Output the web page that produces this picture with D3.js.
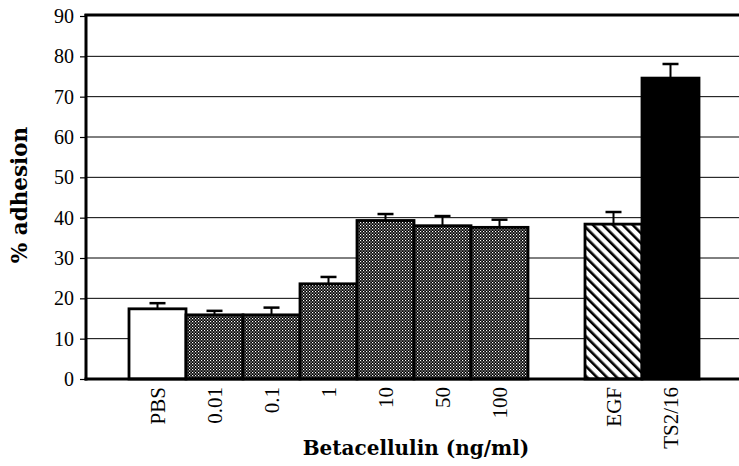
<!DOCTYPE html>
<html><head><meta charset="utf-8">
<script src="https://cdn.jsdelivr.net/npm/d3@7"></script>
<style>html,body{margin:0;padding:0;background:#fff;overflow:hidden}</style>
</head><body>
<script>
const categories = ["PBS","0.01","0.1","1","10","50","100","","EGF","TS2/16"];
const values =     [17.4, 15.9, 15.9, 23.6, 39.3, 38.0, 37.6, null, 38.4, 74.6];
const errTops =    [18.8, 16.9, 17.7, 25.3, 40.9, 40.4, 39.5, null, 41.4, 78.1];
const fills =      ["white","check","check","check","check","check","check",null,"diag","black"];
const yTicks = [0,10,20,30,40,50,60,70,80,90];
const xTitle = "Betacellulin (ng/ml)";
const yTitle = "% adhesion";

const W = 739, H = 466;
const svg = d3.select("body").append("svg").attr("width", W).attr("height", H);
const defs = svg.append("defs");
const pc = defs.append("pattern").attr("id","check").attr("patternUnits","userSpaceOnUse")
  .attr("width",3).attr("height",3);
pc.append("rect").attr("width",3).attr("height",3).attr("fill","#000");
pc.append("rect").attr("x",0).attr("y",0).attr("width",1.2).attr("height",1.2).attr("fill","#fff");
pc.append("rect").attr("x",1.5).attr("y",1.5).attr("width",1.1).attr("height",1.1).attr("fill","#fff");
const pd = defs.append("pattern").attr("id","diag").attr("patternUnits","userSpaceOnUse")
  .attr("width",7).attr("height",7).attr("patternTransform","rotate(-45)");
pd.append("rect").attr("width",7).attr("height",7).attr("fill","#fff");
pd.append("rect").attr("x",0).attr("y",0).attr("width",2.6).attr("height",7).attr("fill","#000");

const x = d3.scaleBand().domain(d3.range(categories.length)).range([129, 699]).padding(0);
const y = d3.scaleLinear().domain([0, 90]).range([379, 16]);
const left = 86, right = 760;

// gridlines
svg.append("g").selectAll("line").data(yTicks.filter(d => d > 0 && d < 90)).join("line")
  .attr("x1", left).attr("x2", right).attr("y1", d => y(d)).attr("y2", d => y(d))
  .attr("stroke", "#000").attr("stroke-width", 1);

// y axis
const yAxis = svg.append("g").attr("transform", `translate(${left},0)`)
  .call(d3.axisLeft(y).tickValues(yTicks).tickSize(6).tickPadding(6));
yAxis.select(".domain").remove();
yAxis.selectAll("text").attr("font-family","Liberation Serif").attr("font-size",20).attr("fill","#000");
yAxis.selectAll("line").attr("stroke","#000").attr("stroke-width",1.2);

// bars
const data = categories.map((c,i) => ({c, i, v: values[i], e: errTops[i], f: fills[i]})).filter(d => d.v != null);
svg.append("g").selectAll("rect").data(data).join("rect")
  .attr("x", d => x(d.i)).attr("width", x.bandwidth())
  .attr("y", d => y(d.v)).attr("height", d => y(0) - y(d.v))
  .attr("fill", d => d.f === "check" ? "url(#check)" : d.f === "diag" ? "url(#diag)" : d.f)
  .attr("stroke", "#000").attr("stroke-width", 2.8);

// error bars
const eb = svg.append("g").selectAll("g").data(data).join("g");
eb.append("line").attr("x1", d => x(d.i) + x.bandwidth()/2).attr("x2", d => x(d.i) + x.bandwidth()/2)
  .attr("y1", d => y(d.v)).attr("y2", d => y(d.e)).attr("stroke","#000").attr("stroke-width",2);
eb.append("line").attr("x1", d => x(d.i) + x.bandwidth()/2 - 8).attr("x2", d => x(d.i) + x.bandwidth()/2 + 8)
  .attr("y1", d => y(d.e)).attr("y2", d => y(d.e)).attr("stroke","#000").attr("stroke-width",2.5);

// frame lines
svg.append("line").attr("x1", left).attr("x2", left).attr("y1", 14).attr("y2", 380.5).attr("stroke","#000").attr("stroke-width",3);
svg.append("line").attr("x1", left - 1.5).attr("x2", right).attr("y1", y(90)-1).attr("y2", y(90)-1).attr("stroke","#000").attr("stroke-width",3);
svg.append("line").attr("x1", left - 1.5).attr("x2", right).attr("y1", y(0)).attr("y2", y(0)).attr("stroke","#000").attr("stroke-width",3);

// x labels
svg.append("g").selectAll("text").data(data).join("text")
  .attr("transform", d => `translate(${x(d.i) + x.bandwidth()/2},387) rotate(-90)`)
  .attr("text-anchor","end").attr("dy","0.35em")
  .attr("font-family","Liberation Serif").attr("font-size",21).attr("fill","#000")
  .text(d => d.c);

// titles
svg.append("text").attr("x", 416).attr("y", 455).attr("text-anchor","middle")
  .attr("font-family","DejaVu Serif").attr("font-weight","bold").attr("font-size",20)
  .text(xTitle);
svg.append("text").attr("transform","translate(27,195) rotate(-90)").attr("text-anchor","middle")
  .attr("font-family","DejaVu Serif").attr("font-weight","bold").attr("font-size",21.5)
  .text(yTitle);
</script>
</body></html>
